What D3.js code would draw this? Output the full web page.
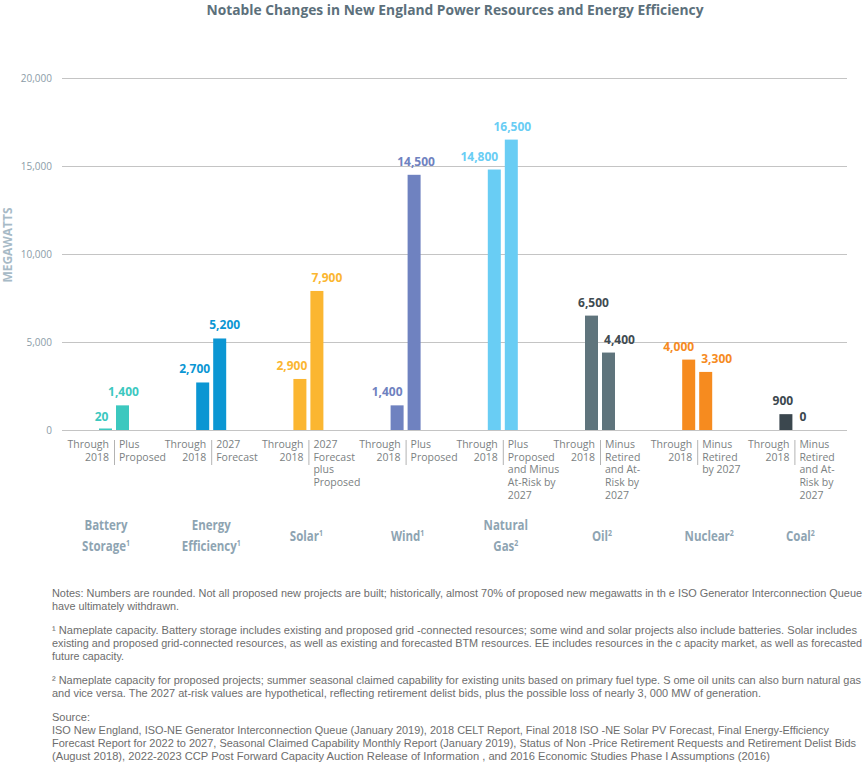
<!DOCTYPE html>
<html>
<head>
<meta charset="utf-8">
<script src="https://cdn.jsdelivr.net/npm/d3@7"></script>
<style>
  body { margin: 0; background: #fff; }
  svg { display: block; }
</style>
</head>
<body>
<script>
// Chart data.
var categories = ["Battery Storage", "Energy Efficiency", "Solar", "Wind", "Natural Gas", "Oil", "Nuclear", "Coal"];
var throughValues = [20, 2700, 2900, 1400, 14800, 6500, 4000, 900];
var futureValues = [1400, 5200, 7900, 14500, 16500, 4400, 3300, 0];
var yTicks = [0, 5000, 10000, 15000, 20000];

var catLines = [["Battery", "Storage", "1"], ["Energy", "Efficiency", "1"], ["Solar", "1"], ["Wind", "1"],
                ["Natural", "Gas", "2"], ["Oil", "2"], ["Nuclear", "2"], ["Coal", "2"]];
var throughLabel = ["Through", "2018"];
var futureLabels = [
  ["Plus", "Proposed"],
  ["2027", "Forecast"],
  ["2027", "Forecast", "plus", "Proposed"],
  ["Plus", "Proposed"],
  ["Plus", "Proposed", "and Minus", "At-Risk by", "2027"],
  ["Minus", "Retired", "and At-", "Risk by", "2027"],
  ["Minus", "Retired", "by 2027"],
  ["Minus", "Retired", "and At-", "Risk by", "2027"]
];

// note lines, with the width each takes in the picture (null = blank line)
var notes = [
  ["Notes: Numbers are rounded. Not all proposed new projects are built; historically, almost 70% of proposed new megawatts in th e ISO Generator Interconnection Queue", 810],
  ["have ultimately withdrawn.", 127],
  null,
  ["\u00b9 Nameplate capacity. Battery storage includes existing and proposed grid -connected resources; some wind and solar projects also include batteries. Solar includes", 805],
  ["existing and proposed grid-connected resources, as well as existing and forecasted BTM resources. EE includes resources in the c apacity market, as well as forecasted", 810],
  ["future capacity.", 72],
  null,
  ["\u00b2 Nameplate capacity for proposed projects; summer seasonal claimed capability for existing units based on primary fuel type. S ome oil units can also burn natural gas", 809],
  ["and vice versa. The 2027 at-risk values are hypothetical, reflecting retirement delist bids, plus the possible loss of nearly 3, 000  MW of  generation.", 709],
  null,
  ["Source:", 38],
  ["ISO New England, ISO-NE Generator Interconnection Queue (January 2019), 2018 CELT Report, Final 2018 ISO -NE Solar PV Forecast, Final Energy-Efficiency", 777],
  ["Forecast Report for 2022 to 2027, Seasonal Claimed Capability Monthly Report (January 2019), Status of Non -Price Retirement Requests and Retirement Delist Bids", 804],
  ["(August 2018), 2022-2023 CCP Post Forward Capacity Auction Release of Information , and 2016 Economic Studies Phase I Assumptions (2016)", 718]
];

// Styling.
var barColors = ["#3cc8bf", "#0b96d3", "#fbb631", "#6f82c0", "#69cdf4", "#5f747c", "#f68b1f", "#3b474e"];
var labelColors = ["#3cc8bf", "#0b96d3", "#fbb631", "#6f82c0", "#69cdf4", "#3f4b51", "#f68b1f", "#3b474e"];
var throughShift = [-4, -8, -8, -10, -15, 2, -10, -3];
var futureShift = [1, 5, 10, 2, 1, 11, 11, 0];
var catShift = [-8, 0, -2, 2, 3, 2, 12, 6];

var W = 866, H = 763;
var svg = d3.select("body").append("svg")
    .attr("width", W)
    .attr("height", H);

var x = d3.scaleBand()
    .domain(categories)
    .range([65.4, 843])
    .padding(0);

var y = d3.scaleLinear()
    .domain([0, 20000])
    .range([430, 78]);

var fmt = d3.format(",");
var barW = 13, gap = 2;

// Title
svg.append("text")
    .attr("x", 455)
    .attr("y", 15)
    .attr("text-anchor", "middle")
    .attr("font-family", "Open Sans")
    .attr("font-weight", "bold")
    .attr("font-size", 15)
    .attr("fill", "#5c707b")
    .attr("textLength", 497)
    .attr("lengthAdjust", "spacingAndGlyphs")
    .text("Notable Changes in New England Power Resources and Energy Efficiency");

// Gridlines and tick labels
var yAxis = svg.append("g")
    .attr("transform", "translate(62,0)")
    .call(d3.axisLeft(y).tickValues(yTicks).tickSize(-785).tickPadding(10).tickFormat(fmt));
yAxis.select(".domain").remove();
yAxis.selectAll(".tick line").attr("stroke", "#c4c4c4").attr("stroke-width", 1);
yAxis.selectAll(".tick text")
    .attr("font-family", "Open Sans")
    .attr("font-size", 10)
    .attr("fill", "#8b9ca7");

svg.append("text")
    .attr("transform", "translate(12,245) rotate(-90)")
    .attr("text-anchor", "middle")
    .attr("font-family", "Open Sans")
    .attr("font-weight", "bold")
    .attr("font-size", 12)
    .attr("fill", "#a7bac6")
    .attr("textLength", 75)
    .attr("lengthAdjust", "spacingAndGlyphs")
    .text("MEGAWATTS");

var groups = svg.selectAll(".grp")
    .data(categories)
    .enter().append("g")
    .attr("class", "grp");

function cx(d) { return x(d) + x.bandwidth() / 2; }

// Bars (the 20 MW bar gets a hairline so it shows)
groups.append("rect")
    .attr("x", function(d) { return cx(d) - gap - barW; })
    .attr("y", function(d, i) { return Math.min(y(throughValues[i]), y(0) - 1.5); })
    .attr("width", barW)
    .attr("height", function(d, i) { return Math.max(y(0) - y(throughValues[i]), 1.5); })
    .attr("fill", function(d, i) { return barColors[i]; });

groups.append("rect")
    .attr("x", function(d) { return cx(d) + gap; })
    .attr("y", function(d, i) { return y(futureValues[i]); })
    .attr("width", barW)
    .attr("height", function(d, i) { return y(0) - y(futureValues[i]); })
    .attr("fill", function(d, i) { return barColors[i]; });

// Value labels
function valueLabel(sel, vals, side, shift) {
  sel.append("text")
      .attr("x", function(d, i) { return cx(d) + side * (gap + barW / 2) + shift[i]; })
      .attr("y", function(d, i) { return y(vals[i]) - 9; })
      .attr("text-anchor", "middle")
      .attr("font-family", "Open Sans")
      .attr("font-weight", "bold")
      .attr("font-size", 12)
      .attr("fill", function(d, i) { return labelColors[i]; })
      .text(function(d, i) { return fmt(vals[i]); });
}
valueLabel(groups, throughValues, -1, throughShift);
valueLabel(groups, futureValues, 1, futureShift);

// Series sub labels under the axis
groups.append("line")
    .attr("x1", function(d) { return cx(d) + 0.5; })
    .attr("x2", function(d) { return cx(d) + 0.5; })
    .attr("y1", 440)
    .attr("y2", 465)
    .attr("stroke", "#a0a0a0")
    .attr("stroke-width", 0.8);

groups.append("text")
    .attr("text-anchor", "end")
    .attr("font-family", "Open Sans")
    .attr("font-size", 10.5)
    .attr("fill", "#7b7f82")
    .selectAll("tspan")
    .data(function(d) { return throughLabel.map(function(t) { return {t: t, c: cx(d)}; }); })
    .enter().append("tspan")
    .attr("x", function(o) { return o.c - 5; })
    .attr("y", function(o, j) { return 448 + j * 12.7; })
    .text(function(o) { return o.t; });

groups.append("text")
    .attr("font-family", "Open Sans")
    .attr("font-size", 10.5)
    .attr("fill", "#7b7f82")
    .selectAll("tspan")
    .data(function(d, i) { return futureLabels[i].map(function(t) { return {t: t, c: cx(d)}; }); })
    .enter().append("tspan")
    .attr("x", function(o) { return o.c + 5; })
    .attr("y", function(o, j) { return 448 + j * 12.7; })
    .text(function(o) { return o.t; });

// Category names
groups.each(function(d, i) {
  var lines = catLines[i];
  var sup = lines[lines.length - 1];
  var words = lines.slice(0, -1);
  var top = words.length === 2 ? 530 : 541;
  var g = d3.select(this).append("g")
      .attr("transform", "translate(" + (cx(d) + catShift[i]) + ",0) scale(0.82,1)");
  words.forEach(function(w, j) {
    var t = g.append("text")
        .attr("x", 0)
        .attr("y", top + j * 21)
        .attr("text-anchor", "middle")
        .attr("font-family", "Open Sans")
        .attr("font-weight", "bold")
        .attr("font-size", 14)
        .attr("fill", "#8ea4b2");
    t.append("tspan").text(w);
    if (j === words.length - 1) {
      t.append("tspan")
          .attr("font-size", 8.5)
          .attr("dy", -5)
          .text(sup);
    }
  });
});

// Notes
var noteRows = [];
var ny = 597;
notes.forEach(function(n) {
  if (n) noteRows.push({n: n, y: ny});
  ny += n ? 13 : 11;
});

svg.append("g").selectAll("text")
    .data(noteRows)
    .enter().append("text")
    .attr("x", 52)
    .attr("y", function(o) { return o.y; })
    .attr("font-family", "Liberation Sans")
    .attr("font-size", 10.5)
    .attr("fill", "#6d6d6d")
    .attr("textLength", function(o) { return o.n[1]; })
    .attr("lengthAdjust", "spacingAndGlyphs")
    .text(function(o) { return o.n[0]; });
</script>
</body>
</html>
